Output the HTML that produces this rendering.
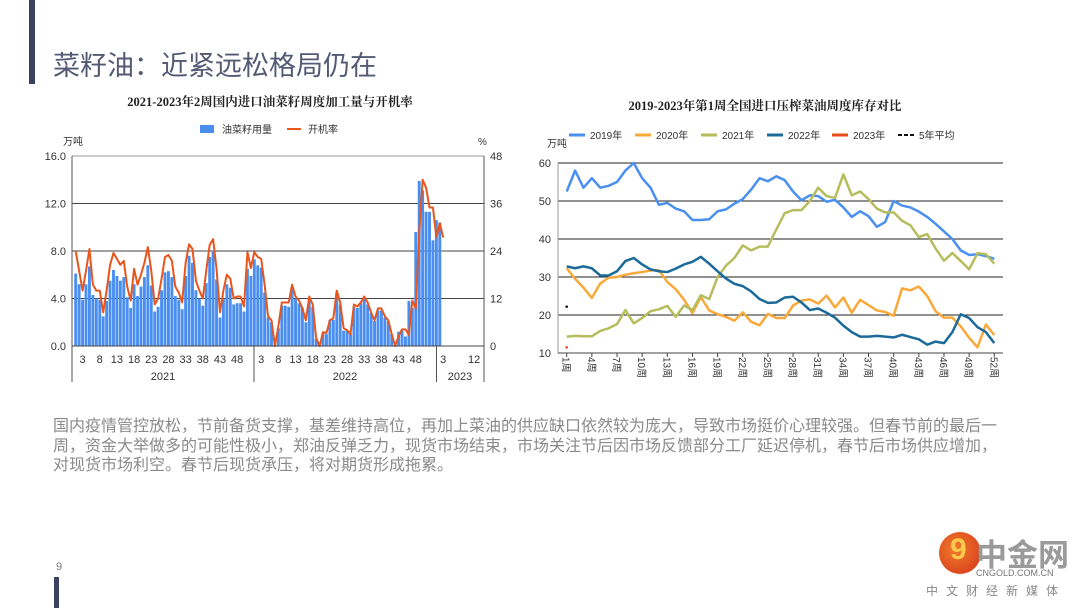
<!DOCTYPE html>
<html><head><meta charset="utf-8"><style>
body{margin:0;width:1080px;height:608px;background:#fff;overflow:hidden;position:relative;font-family:"Liberation Sans","Noto Sans CJK SC",sans-serif}
.abs{position:absolute}
</style></head><body>
<div class="abs" style="left:29px;top:0;width:6px;height:84px;background:#3b4160"></div>
<div class="abs" style="left:53px;top:44px;font-size:27px;color:#555a74;white-space:nowrap">菜籽油：近紧远松格局仍在</div>
<div class="abs" style="left:53px;top:417px;font-size:16px;line-height:19.5px;color:#8a8a8a;white-space:nowrap">国内疫情管控放松，节前备货支撑，基差维持高位，再加上菜油的供应缺口依然较为庞大，导致市场挺价心理较强。但春节前的最后一<br>周，资金大举做多的可能性极小，郑油反弹乏力，现货市场结束，市场关注节后因市场反馈部分工厂延迟停机，春节后市场供应增加，<br>对现货市场利空。春节后现货承压，将对期货形成拖累。</div>
<div class="abs" style="left:56px;top:561px;font-size:11px;color:#777">9</div>
<div class="abs" style="left:54px;top:577px;width:5px;height:31px;background:#3b4160"></div>
<div class="abs" style="left:939px;top:532px;width:42px;height:42px;border-radius:50%;background:radial-gradient(circle at 40% 40%,#f07a2a,#d4341a);"></div>
<div class="abs" style="left:950px;top:533px;font-size:30px;font-weight:bold;color:#f8c94a">9</div>
<div class="abs" style="left:976px;top:530px;font-size:31px;font-weight:bold;color:#9a9a9a;font-family:'Noto Sans CJK SC',sans-serif">中金网</div>
<div class="abs" style="left:976px;top:568px;font-size:9px;color:#777">CNGOLD.COM.CN</div>
<div class="abs" style="left:926px;top:582px;font-size:12px;letter-spacing:8px;color:#888">中文财经新媒体</div>

<svg class="abs" style="left:0;top:0" width="1080" height="608" id="svg" font-family="Liberation Sans, Noto Sans CJK SC, sans-serif"></svg>

<script>
// ---- Left chart data ----
const barVals2021 = [6.1,5.2,3.9,5.2,6.7,4.3,4.0,3.9,2.5,3.8,5.5,6.4,5.9,5.5,5.8,4.1,3.2,5.2,4.2,5.0,5.8,6.8,5.1,2.9,3.3,4.7,6.2,6.3,5.8,4.2,3.9,3.1,5.9,7.6,7.0,4.7,4.0,3.4,5.3,7.5,8.0,5.6,2.4,4.0,5.2,4.9,3.5,3.6,3.6,2.9,6.5,5.9];
const barVals2022 = [7.3,6.8,6.6,4.5,2.4,2.0,0.1,1.5,3.4,3.4,3.3,4.9,4.0,3.6,3.2,2.0,4.0,3.3,0.6,0.1,1.1,1.0,2.2,2.2,4.5,3.5,1.3,1.3,1.0,3.3,3.2,3.6,4.0,3.5,2.8,2.1,3.0,3.0,2.4,2.1,1.0,0.0,1.2,1.3,0.8,3.8,3.2,9.6,13.9,13.1,11.3,11.3,8.9];
const barVals2023 = [10.6,10.4];
const rate2021 = [24,19,14,19,24.5,15.5,14,14,8.5,14,20.5,23.5,22,20.5,21.5,15,11.5,19.5,15.5,18,21,25,19,10.5,12,17,22.5,23,21.5,15,13.5,11,21,25.7,24.5,16.5,14,12,19,25.5,27,19.5,8.5,14,18,17,12,12.5,12.5,10,23.7,19.7];
const rate2022 = [23.7,22.5,22,15.5,7.5,6.5,0,5,11,11,11,15.5,12.5,11.5,9.5,6.5,12.5,10.5,2,0,3.5,3.3,6.5,7,14,11,4.5,4,3,10.5,10,11,12.5,11,8.5,6.5,9.5,9.5,7.5,6.5,3,0,2.5,4.2,4.2,2.8,11.5,9.5,28.5,42,40,35,35,27.5];
const rate2023 = [31,27.4];
const leftYTicks = ["0.0","4.0","8.0","12.0","16.0"];
const leftYTickVals = [0,4,8,12,16];
const rightYTicks = ["0","12","24","36","48"];
const xTickLabels = ["3","8","13","18","23","28","33","38","43","48","3","8","13","18","23","28","33","38","43","48","3","12"];
const xTickIdx = [2,7,12,17,22,27,32,37,42,47,54,59,64,69,74,79,84,89,94,99,107,116];

// ---- Right chart data ----
const weeks = Array.from({length:52},(_,i)=>i+1);
const s2019 = [52.5,58,53.5,56,53.5,54,55,58,60,56,53.5,49,49.5,48,47.3,45,45,45.2,47.3,47.8,49.3,50.5,53,56,55.2,56.5,55.5,52.5,50.2,51.5,51.3,49.8,50.3,48.3,45.8,47.3,46,43.2,44.5,50,48.8,48.3,47.2,45.8,44,42,40,37,35.8,36,35.5,34.8];
const s2020 = [32.3,29.5,27.2,24.5,28.3,29.8,30,30.6,31,31.3,31.7,31.8,28.7,26.8,24,20.5,24.7,21.2,20.2,19.5,18.5,20.7,18.2,17.3,20.3,19.2,19.2,22.5,23.8,24.1,23,25.1,22,24.6,20.6,24,22.6,21.2,20.8,19.8,27,26.5,27.5,25,21,19.3,19.3,17,14,11.5,17.5,14.7];
const s2021 = [14.3,14.5,14.4,14.4,15.8,16.5,17.6,21.3,17.8,19.2,21,21.5,22.4,19.5,22.5,21.3,25.2,24.2,30,33,35,38.3,37,38,38,42.5,46.8,47.6,47.6,50,53.5,51.3,50.8,57,51.5,52.5,50.5,48,47,47,44.8,43.6,40.5,41.3,37.5,34.3,36.3,34.2,32,36.3,36,33.5];
const s2022 = [32.8,32.3,32.8,32.3,30.4,30.4,31.5,34.2,35,33.3,32,31.5,31.3,32.2,33.3,34,35.3,33.5,31.5,29.6,28.2,27.6,26.2,24.2,23.2,23.3,24.6,24.8,23.3,21.3,21.7,20.6,19.3,17.2,15.5,14.3,14.3,14.5,14.3,14.1,14.8,14.2,13.6,12.2,13,12.6,15.5,20.2,19.2,16.8,15.5,12.6];
const s2023 = [11.5];
const sAvg = [22.2];
const rightYTickVals = [10,20,30,40,50,60];
const seriesNames = ["2019年","2020年","2021年","2022年","2023年","5年平均"];

const NS="http://www.w3.org/2000/svg";
const svg=document.getElementById('svg');
function mk(tag,attrs,parent){const e=document.createElementNS(NS,tag);for(const k in attrs)e.setAttribute(k,attrs[k]);(parent||svg).appendChild(e);return e;}
function txt(s,attrs){const e=mk('text',attrs);e.textContent=s;return e;}

// ===== LEFT CHART =====
const L={x0:72,x1:484,y0:346,y1:156};
const lx=i=>75.7+i*3.435;
const ly=v=>L.y0-(v/16)*(L.y0-L.y1);
const ry=v=>L.y0-(v/48)*(L.y0-L.y1);
let t;
t=txt("2021-2023年2周国内进口油菜籽周度加工量与开机率",{x:270,y:106,'text-anchor':'middle','font-size':12.5,'font-weight':'bold',fill:'#222','font-family':'Liberation Serif, Noto Serif CJK SC, serif'});

let r=mk('rect',{x:200,y:125,width:14,height:8,fill:'#4a8ef0'});

t=txt("油菜籽用量",{x:222,y:133,'font-size':10,fill:'#333'});

let l=mk('line',{x1:287,y1:129,x2:301,y2:129,stroke:'#e8561e','stroke-width':2});

t=txt("开机率",{x:308,y:133,'font-size':10,fill:'#333'});

t=txt("万吨",{x:63,y:145,'font-size':10,fill:'#333'});

t=txt("%",{x:478,y:145,'font-size':10,fill:'#333'});

leftYTickVals.forEach((v,k)=>{
  if(v>0){l=mk('line',{x1:L.x0,y1:ly(v),x2:L.x1,y2:ly(v),stroke:v==16?'#999':'#444','stroke-width':1});
  }
  t=txt(leftYTicks[k],{x:66,y:ly(v)+4,'text-anchor':'end','font-size':11,fill:'#333'});
  
  t=txt(rightYTicks[k],{x:490,y:ly(v)+4,'font-size':11,fill:'#333'});
  
});
const allBars=barVals2021.concat(barVals2022,barVals2023);
const allRate=rate2021.concat(rate2022,rate2023);
allBars.forEach((v,i)=>{
  const b=mk('rect',{x:lx(i)-1.45,y:ly(v),width:2.9,height:L.y0-ly(v),fill:'#4a8ef0'});
  
  
});
let p=mk('polyline',{points:allRate.map((v,i)=>lx(i)+','+ry(v)).join(' '),fill:'none',stroke:'#e8561e','stroke-width':2,'stroke-linejoin':'round'});

l=mk('line',{x1:L.x0,y1:L.y1,x2:L.x0,y2:382,stroke:'#555'});
l=mk('line',{x1:L.x1,y1:L.y1,x2:L.x1,y2:382,stroke:'#555'});
l=mk('line',{x1:L.x0,y1:L.y0,x2:L.x1,y2:L.y0,stroke:'#444'});
[254,436.5].forEach(x=>{l=mk('line',{x1:x,y1:L.y0,x2:x,y2:382,stroke:'#555'});});
xTickLabels.forEach((s,k)=>{
  t=txt(s,{x:lx(xTickIdx[k]),y:363,'text-anchor':'middle','font-size':11,fill:'#333'});
  
});
[["2021",163],["2022",345],["2023",460]].forEach(a=>{
  t=txt(a[0],{x:a[1],y:380,'text-anchor':'middle','font-size':11,fill:'#333'});
  
});

// ===== RIGHT CHART =====
const R={x0:558,x1:1003,y0:353,y1:163};
const wx=w=>566.7+(w-1)*8.384;
const wy=v=>R.y0-(v-10)/50*(R.y0-R.y1);
t=txt("2019-2023年第1周全国进口压榨菜油周度库存对比",{x:765,y:110,'text-anchor':'middle','font-size':12.5,'font-weight':'bold',fill:'#222','font-family':'Liberation Serif, Noto Serif CJK SC, serif'});

const colors=['#4a90f0','#f9a93a','#b5bd5c','#1b6a9a','#e84d1c','#111'];
const legX=[569,635,701,767,832,898];
seriesNames.forEach((n,k)=>{
  l=mk('line',{x1:legX[k],y1:135,x2:legX[k]+16,y2:135,stroke:colors[k],'stroke-width':k==5?2:3,'stroke-dasharray':k==5?'4,2':'none'});
  
  t=txt(n,{x:legX[k]+21,y:139,'font-size':10,fill:'#333'});
  
});
t=txt("万吨",{x:547,y:147,'font-size':10,fill:'#333'});

rightYTickVals.forEach(v=>{
  if(v>10){l=mk('line',{x1:R.x0,y1:wy(v),x2:R.x1,y2:wy(v),stroke:'#222','stroke-width':1});
  }
  t=txt(String(v),{x:551,y:wy(v)+4,'text-anchor':'end','font-size':11,fill:'#333'});
  
});
l=mk('line',{x1:R.x0,y1:R.y1,x2:R.x0,y2:R.y0,stroke:'#999'});
l=mk('line',{x1:R.x0,y1:R.y0,x2:R.x1,y2:R.y0,stroke:'#444'});
weeks.forEach(w=>{
  if((w-1)%3==0){
    l=mk('line',{x1:wx(w),y1:R.y0,x2:wx(w),y2:R.y0+4,stroke:'#444'});
    
    t=txt(w+"周",{x:wx(w)-4,y:R.y0+4,'font-size':10,fill:'#333',transform:`rotate(90 ${wx(w)-4} ${R.y0+4})`});
    
  }
});
[s2019,s2020,s2021,s2022].forEach((s,k)=>{
  const pl=mk('polyline',{points:s.map((v,i)=>wx(weeks[i])+','+wy(v)).join(' '),fill:'none',stroke:colors[k],'stroke-width':2.5,'stroke-linejoin':'round'});
  
  
});
s2023.forEach((v,i)=>{const c=mk('circle',{cx:wx(weeks[i]),cy:wy(v),r:1.3,fill:colors[4]});
  
  });
sAvg.forEach((v,i)=>{const c=mk('circle',{cx:wx(weeks[i]),cy:wy(v),r:1.3,fill:colors[5]});
  
  });
</script>
</body></html>
